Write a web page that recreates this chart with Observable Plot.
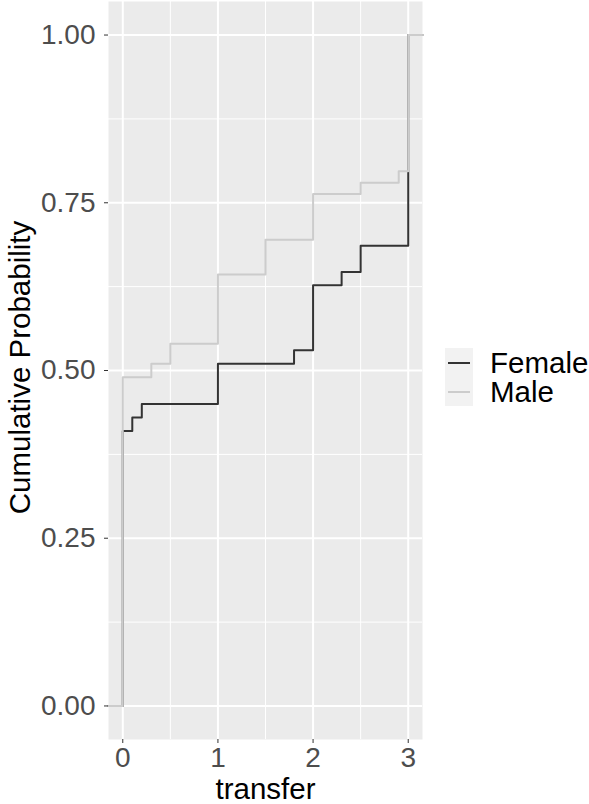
<!DOCTYPE html>
<html>
<head>
<meta charset="utf-8">
<script src="https://cdn.jsdelivr.net/npm/d3@7"></script>
<script src="https://cdn.jsdelivr.net/npm/@observablehq/plot@0.6"></script>
<style>
  html, body { margin: 0; padding: 0; background: #ffffff; }
  #wrap { position: relative; width: 589px; height: 804px; font-family: "Liberation Sans", Arial, Helvetica, sans-serif; }
  #legend { position: absolute; left: 445px; top: 348px; }
  .row { display: flex; align-items: center; height: 29px; }
  .key { width: 28px; height: 29px; background: #F2F2F2; position: relative; }
  .key span { position: absolute; left: 3px; right: 3px; top: 13.5px; height: 2px; }
  .lab { margin-left: 17px; font-size: 29.5px; color: #000; line-height: 29px; }
</style>
</head>
<body>
<div id="wrap"></div>
<script>
// ---- data ----
const groups = ["Female", "Male"];
const groupColors = ["#333333", "#CCCCCC"];
const femaleX = [0, 0.1, 0.2, 1, 1.8, 2, 2.3, 2.5, 3];
const femaleP = [0.41, 0.43, 0.45, 0.51, 0.53, 0.627, 0.647, 0.686, 1];
const maleX = [0, 0.3, 0.5, 1, 1.5, 2, 2.5, 2.9, 3];
const maleP = [0.49, 0.51, 0.54, 0.643, 0.695, 0.763, 0.78, 0.797, 1];
const xTicks = [0, 1, 2, 3];
const xMinor = [0.5, 1.5, 2.5];
const yTicks = [0, 0.25, 0.5, 0.75, 1];
const yMinor = [0.125, 0.375, 0.625, 0.875];
const xDomain = [-0.15, 3.15];
const yDomain = [-0.05, 1.05];

// ECDF with padding at both ends (like stat_ecdf pad = TRUE)
function ecdfRows(name, xs, ps) {
  const rows = [{sex: name, x: xDomain[0], p: 0}];
  xs.forEach((x, i) => rows.push({sex: name, x, p: ps[i]}));
  rows.push({sex: name, x: xDomain[1], p: 1});
  return rows;
}
const rows = [...ecdfRows("Female", femaleX, femaleP), ...ecdfRows("Male", maleX, maleP)];

const font = "Liberation Sans, Arial, Helvetica, sans-serif";

const chart = Plot.plot({
  width: 589,
  height: 804,
  marginLeft: 108,
  marginRight: 167,
  marginTop: 1,
  marginBottom: 65,
  style: {fontFamily: font, background: "#ffffff", overflow: "visible"},
  x: {domain: xDomain, label: null},
  y: {domain: yDomain, label: null},
  color: {domain: groups, range: groupColors},
  marks: [
    Plot.frame({fill: "#EBEBEB", stroke: null}),
    Plot.gridX(xMinor, {stroke: "#ffffff", strokeOpacity: 1, strokeWidth: 1}),
    Plot.gridY(yMinor, {stroke: "#ffffff", strokeOpacity: 1, strokeWidth: 1}),
    Plot.gridX(xTicks, {stroke: "#ffffff", strokeOpacity: 1, strokeWidth: 2}),
    Plot.gridY(yTicks, {stroke: "#ffffff", strokeOpacity: 1, strokeWidth: 2}),
    Plot.line(rows, {x: "x", y: "p", z: "sex", stroke: "sex", curve: "step-after", strokeWidth: 2}),
    Plot.axisX({ticks: xTicks, tickFormat: d3.format("d"), tickSize: 4, tickPadding: 4,
      fontSize: 28, stroke: "#333333", fill: "#4D4D4D", label: null}),
    Plot.axisY({ticks: yTicks, tickFormat: d3.format(".2f"), tickSize: 4, tickPadding: 9,
      fontSize: 28, stroke: "#333333", fill: "#4D4D4D", label: null}),
    Plot.text(["transfer"], {frameAnchor: "bottom", lineAnchor: "middle", textAnchor: "middle", dy: 50.5, fontSize: 29.5, fill: "#000000"}),
    Plot.text(["Cumulative Probability"], {frameAnchor: "left", lineAnchor: "middle", textAnchor: "middle", dx: -88, dy: -3, rotate: -90, fontSize: 29.5, fill: "#000000"})
  ]
});

const wrap = document.getElementById("wrap");
wrap.appendChild(chart);

// legend
const legend = document.createElement("div");
legend.id = "legend";
groups.forEach((g, i) => {
  const row = document.createElement("div");
  row.className = "row";
  const key = document.createElement("div");
  key.className = "key";
  const ln = document.createElement("span");
  ln.style.background = groupColors[i];
  key.appendChild(ln);
  const lab = document.createElement("div");
  lab.className = "lab";
  lab.textContent = g;
  row.appendChild(key);
  row.appendChild(lab);
  legend.appendChild(row);
});
wrap.appendChild(legend);
</script>
</body>
</html>
